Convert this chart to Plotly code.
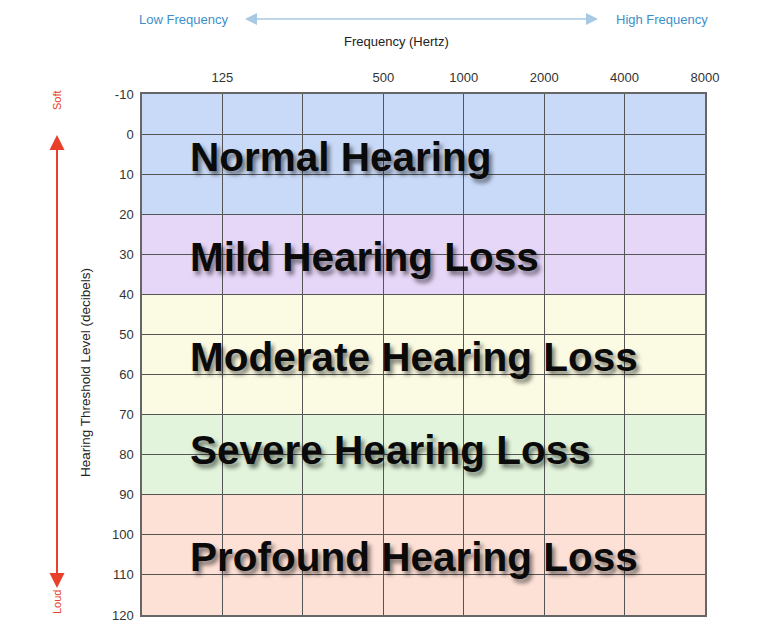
import math
import plotly.graph_objects as go

# ---- data ----
band_low = [-10, 20, 40, 70, 90]
band_high = [20, 40, 70, 90, 120]
band_labels = ["Normal Hearing", "Mild Hearing Loss", "Moderate Hearing Loss",
               "Severe Hearing Loss", "Profound Hearing Loss"]
band_label_y = [5.7, 30.6, 55.5, 78.8, 105.5]
band_colors = ["#c9daf8", "#e6d6f8", "#fbfbe3", "#e2f5dc", "#fde0d6"]

freq_ticks = [125, 250, 500, 1000, 2000, 4000, 8000]
freq_labels = ["125", "", "500", "1000", "2000", "4000", "8000"]
freq_min = 62.5
db_ticks = list(range(-10, 121, 10))
db_labels = [str(v) for v in db_ticks]

# ---- layout geometry (window pixels; page body has an 8px margin) ----
OFF = 8
W, H = 771 - OFF, 644 - OFF
L, R, T, B = 142 - OFF, 705 - OFF, 94 - OFF, 615 - OFF


def px(x):
    return (x - OFF - L) / (R - L)


def py(y):
    return (B - (y - OFF)) / (B - T)


FONT = "Liberation Sans, Arial, sans-serif"
fig = go.Figure()

# invisible trace to set up axes
fig.add_trace(go.Scatter(x=[freq_min, freq_ticks[-1]], y=[band_low[0], band_high[-1]],
                         mode="markers", marker=dict(opacity=0), hoverinfo="skip",
                         showlegend=False))

for lo, hi, c in zip(band_low, band_high, band_colors):
    fig.add_shape(type="rect", xref="x domain", yref="y", x0=0, x1=1, y0=lo, y1=hi,
                  fillcolor=c, line=dict(width=0), layer="below")

for lab, yv in zip(band_labels, band_label_y):
    fig.add_annotation(text="<b>" + lab + "</b>", xref="paper", yref="y",
                       x=px(188), y=yv, xanchor="left", yanchor="middle",
                       showarrow=False,
                       font=dict(family=FONT, size=40.5, color="#0a0a0a",
                                 shadow="3px 4px 4px rgba(0,0,0,0.5)"))

# top labels and arrow
blue = "#3d8fc9"
light_blue = "#a9c9e2"
fig.add_annotation(text="Low Frequency", xref="paper", yref="paper", x=px(183), y=py(19),
                   xanchor="center", yanchor="middle", showarrow=False,
                   font=dict(family=FONT, size=13, color=blue))
fig.add_annotation(text="High Frequency", xref="paper", yref="paper", x=px(662), y=py(19),
                   xanchor="center", yanchor="middle", showarrow=False,
                   font=dict(family=FONT, size=13, color=blue))
fig.add_annotation(text="Frequency (Hertz)", xref="paper", yref="paper", x=px(396), y=py(41),
                   xanchor="center", yanchor="middle", showarrow=False,
                   font=dict(family=FONT, size=13, color="#222"))
fig.add_shape(type="line", xref="paper", yref="paper", x0=px(250), x1=px(593),
              y0=py(19), y1=py(19), line=dict(color=light_blue, width=1.5))
for end_x, d in ((245, 14), (598, -14)):
    fig.add_annotation(text="", xref="paper", yref="paper", x=px(end_x), y=py(19),
                       ax=d, ay=0, showarrow=True, arrowhead=2, arrowsize=1.6,
                       arrowwidth=1.5, arrowcolor=light_blue)

# left red arrow
red = "#e8402a"
fig.add_shape(type="line", xref="paper", yref="paper", x0=px(57), x1=px(57),
              y0=py(142), y1=py(581), line=dict(color=red, width=2))
for end_y, d in ((135, 16), (588, -16)):
    fig.add_annotation(text="", xref="paper", yref="paper", x=px(57), y=py(end_y),
                       ax=0, ay=d, showarrow=True, arrowhead=2, arrowsize=1.5,
                       arrowwidth=2, arrowcolor=red)
fig.add_annotation(text="Soft", xref="paper", yref="paper", x=px(57), y=py(100), textangle=-90,
                   xanchor="center", yanchor="middle", showarrow=False,
                   font=dict(family=FONT, size=11, color=red))
fig.add_annotation(text="Loud", xref="paper", yref="paper", x=px(57), y=py(602), textangle=-90,
                   xanchor="center", yanchor="middle", showarrow=False,
                   font=dict(family=FONT, size=11, color=red))
fig.add_annotation(text="Hearing Threshold Level (decibels)", xref="paper", yref="paper",
                   x=px(85), y=py(373), textangle=-90, xanchor="center", yanchor="middle",
                   showarrow=False, font=dict(family=FONT, size=13.5, color="#222"))

fig.update_xaxes(type="log", side="top",
                 range=[math.log10(freq_min), math.log10(freq_ticks[-1])],
                 tickmode="array", tickvals=freq_ticks, ticktext=freq_labels,
                 showgrid=True, gridcolor="#555", gridwidth=1,
                 showline=True, linecolor="#666", linewidth=1.5, mirror=True,
                 ticks="outside", ticklen=5, tickcolor="rgba(0,0,0,0)",
                 tickfont=dict(family=FONT, size=13, color="#333"),
                 zeroline=False, fixedrange=True)
fig.update_yaxes(range=[band_high[-1], band_low[0]], tickmode="array", tickvals=db_ticks,
                 ticktext=db_labels, showgrid=True, gridcolor="#555", gridwidth=1,
                 showline=True, linecolor="#666", linewidth=1.5, mirror=True,
                 ticks="outside", ticklen=4, tickcolor="rgba(0,0,0,0)",
                 tickfont=dict(family=FONT, size=13, color="#333"),
                 zeroline=False, fixedrange=True)

fig.update_layout(width=W, height=H, margin=dict(l=L, r=W - R, t=T, b=H - B),
                  paper_bgcolor="white", plot_bgcolor="white", showlegend=False)

fig.write_html("out.html")
